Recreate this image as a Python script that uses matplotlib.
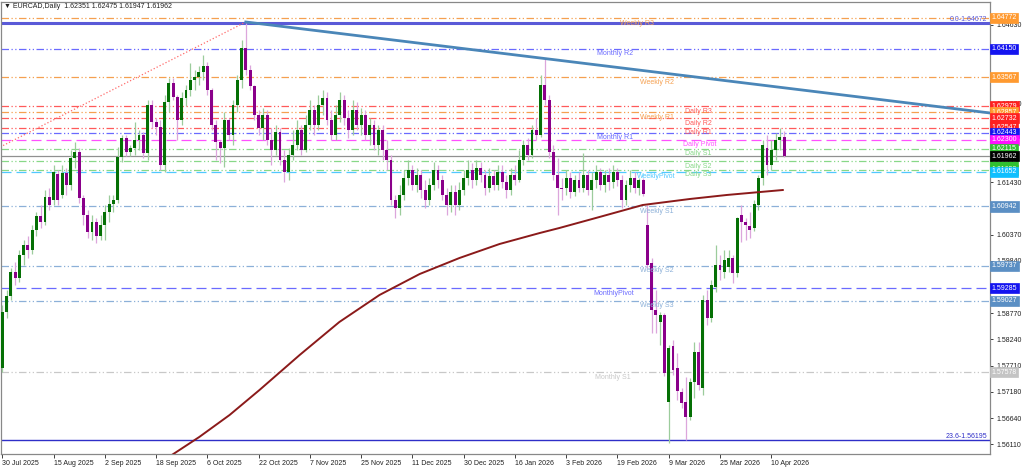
import numpy as np
import matplotlib
matplotlib.use("Agg")
import matplotlib.pyplot as plt
from matplotlib.transforms import blended_transform_factory

plt.rcParams['font.family'] = ['Liberation Sans', 'DejaVu Sans']

# --- data ---------------------------------------------------------------
date_labels = ["30 Jul 2025", "15 Aug 2025", "2 Sep 2025", "18 Sep 2025", "6 Oct 2025",
               "22 Oct 2025", "7 Nov 2025", "25 Nov 2025", "11 Dec 2025", "30 Dec 2025",
               "16 Jan 2026", "3 Feb 2026", "19 Feb 2026", "9 Mar 2026", "25 Mar 2026",
               "10 Apr 2026"]
date_label_bars = [0, 12, 24, 36, 48, 60, 72, 84, 96, 108, 120, 132, 144, 156, 168, 180]

# daily OHLC, one row per 12 bars
opens = [1.5766, 1.5880, 1.5912, 1.5961, 1.5949, 1.5996, 1.6016, 1.6006, 1.6047, 1.6075, 1.6063, 1.6113,
         1.6107, 1.6160, 1.6117, 1.6162, 1.6138, 1.6193, 1.6205, 1.6112, 1.6077, 1.6042, 1.6063, 1.6034,
         1.6057, 1.6083, 1.6099, 1.6107, 1.6195, 1.6233, 1.6205, 1.6213, 1.6229, 1.6240, 1.6203, 1.6300,
         1.6266, 1.6256, 1.6179, 1.6307, 1.6345, 1.6317, 1.6270, 1.6315, 1.6331, 1.6351, 1.6357, 1.6368,
         1.6380, 1.6331, 1.6260, 1.6225, 1.6213, 1.6270, 1.6240, 1.6300, 1.6351, 1.6416, 1.6372, 1.6339,
         1.6280, 1.6254, 1.6280, 1.6229, 1.6209, 1.6246, 1.6189, 1.6164, 1.6199, 1.6219, 1.6250, 1.6209,
         1.6260, 1.6290, 1.6260, 1.6300, 1.6315, 1.6270, 1.6240, 1.6280, 1.6311, 1.6274, 1.6250, 1.6290,
         1.6260, 1.6280, 1.6240, 1.6260, 1.6219, 1.6250, 1.6209, 1.6189, 1.6107, 1.6091, 1.6117, 1.6152,
         1.6168, 1.6138, 1.6158, 1.6128, 1.6107, 1.6138, 1.6168, 1.6148, 1.6117, 1.6097, 1.6124, 1.6097,
         1.6128, 1.6152, 1.6168, 1.6148, 1.6172, 1.6158, 1.6132, 1.6156, 1.6138, 1.6164, 1.6144, 1.6128,
         1.6158, 1.6148, 1.6189, 1.6219, 1.6199, 1.6250, 1.6240, 1.6341, 1.6311, 1.6205, 1.6158, 1.6132,
         1.6132, 1.6152, 1.6124, 1.6148, 1.6132, 1.6158, 1.6128, 1.6148, 1.6164, 1.6138, 1.6158, 1.6144,
         1.6164, 1.6148, 1.6107, 1.6138, 1.6152, 1.6132, 1.6148, 1.6057, 1.5979, 1.5884, 1.5860, 1.5874,
         1.5697, 1.5811, 1.5767, 1.5717, 1.5697, 1.5667, 1.5738, 1.5799, 1.5725, 1.5904, 1.5868, 1.5931,
         1.5975, 1.5961, 1.5971, 1.5990, 1.5959, 1.6077, 1.6063, 1.6055, 1.6051, 1.6097, 1.6152, 1.6213,
         1.6178, 1.6209, 1.6229, 1.62351]
highs = [1.5894, 1.5925, 1.5969, 1.5981, 1.6006, 1.6026, 1.6034, 1.6057, 1.6083, 1.6097, 1.6128, 1.6132,
         1.6178, 1.6168, 1.6178, 1.6172, 1.6209, 1.6225, 1.6213, 1.6117, 1.6087, 1.6077, 1.6071, 1.6077,
         1.6097, 1.6117, 1.6117, 1.6215, 1.6240, 1.6240, 1.6219, 1.6266, 1.6250, 1.6246, 1.6311, 1.6311,
         1.6274, 1.6270, 1.6321, 1.6355, 1.6355, 1.6321, 1.6327, 1.6341, 1.6386, 1.6372, 1.6380, 1.6402,
         1.6388, 1.6335, 1.6270, 1.6229, 1.6286, 1.6274, 1.6311, 1.6361, 1.6433, 1.6467, 1.6382, 1.6341,
         1.6290, 1.6294, 1.6290, 1.6254, 1.6260, 1.6254, 1.6209, 1.6213, 1.6250, 1.6270, 1.6260, 1.6280,
         1.6311, 1.6300, 1.6321, 1.6331, 1.6327, 1.6290, 1.6300, 1.6327, 1.6321, 1.6290, 1.6311, 1.6307,
         1.6294, 1.6290, 1.6274, 1.6270, 1.6260, 1.6260, 1.6229, 1.6199, 1.6117, 1.6138, 1.6168, 1.6189,
         1.6178, 1.6172, 1.6168, 1.6148, 1.6152, 1.6185, 1.6178, 1.6158, 1.6132, 1.6138, 1.6138, 1.6144,
         1.6168, 1.6189, 1.6183, 1.6189, 1.6185, 1.6168, 1.6172, 1.6168, 1.6178, 1.6178, 1.6158, 1.6172,
         1.6178, 1.6209, 1.6229, 1.6233, 1.6260, 1.6274, 1.6361, 1.6396, 1.6321, 1.6219, 1.6193, 1.6152,
         1.6168, 1.6164, 1.6158, 1.6164, 1.6203, 1.6168, 1.6164, 1.6178, 1.6172, 1.6168, 1.6172, 1.6178,
         1.6172, 1.6158, 1.6148, 1.6168, 1.6164, 1.6152, 1.6152, 1.6097, 1.5990, 1.5925, 1.5880, 1.5878,
         1.5813, 1.5823, 1.5797, 1.5725, 1.5748, 1.5746, 1.5819, 1.5819, 1.5914, 1.5925, 1.5945, 1.6016,
         1.5996, 1.6006, 1.6006, 1.5996, 1.6073, 1.6097, 1.6071, 1.6083, 1.6107, 1.6158, 1.6229, 1.6240,
         1.6229, 1.6244, 1.6254, 1.62475]
lows = [1.5758, 1.5868, 1.5904, 1.5935, 1.5941, 1.5975, 1.5990, 1.5998, 1.6034, 1.6051, 1.6057, 1.6087,
        1.6097, 1.6097, 1.6112, 1.6117, 1.6128, 1.6172, 1.6101, 1.6057, 1.6030, 1.6026, 1.6020, 1.6026,
        1.6026, 1.6063, 1.6083, 1.6101, 1.6185, 1.6197, 1.6197, 1.6199, 1.6209, 1.6193, 1.6189, 1.6254,
        1.6240, 1.6168, 1.6164, 1.6286, 1.6311, 1.6229, 1.6260, 1.6298, 1.6319, 1.6331, 1.6341, 1.6351,
        1.6321, 1.6250, 1.6189, 1.6183, 1.6174, 1.6229, 1.6219, 1.6286, 1.6335, 1.6361, 1.6331, 1.6270,
        1.6240, 1.6229, 1.6219, 1.6179, 1.6199, 1.6179, 1.6144, 1.6148, 1.6189, 1.6209, 1.6199, 1.6205,
        1.6250, 1.6240, 1.6250, 1.6280, 1.6260, 1.6229, 1.6229, 1.6266, 1.6260, 1.6233, 1.6240, 1.6250,
        1.6240, 1.6229, 1.6219, 1.6209, 1.6199, 1.6189, 1.6168, 1.6097, 1.6071, 1.6077, 1.6107, 1.6138,
        1.6128, 1.6124, 1.6112, 1.6091, 1.6097, 1.6128, 1.6132, 1.6107, 1.6077, 1.6083, 1.6077, 1.6087,
        1.6117, 1.6138, 1.6132, 1.6138, 1.6144, 1.6117, 1.6124, 1.6128, 1.6128, 1.6132, 1.6112, 1.6117,
        1.6138, 1.6144, 1.6178, 1.6189, 1.6193, 1.6229, 1.6236, 1.6300, 1.6193, 1.6148, 1.6077, 1.6107,
        1.6117, 1.6112, 1.6116, 1.6124, 1.6124, 1.6117, 1.6087, 1.6132, 1.6128, 1.6124, 1.6128, 1.6132,
        1.6136, 1.6091, 1.6097, 1.6124, 1.6122, 1.6117, 1.6116, 1.5969, 1.5837, 1.5837, 1.5813, 1.5750,
        1.5614, 1.5752, 1.5701, 1.5685, 1.5620, 1.5660, 1.5705, 1.5721, 1.5711, 1.5853, 1.5860, 1.5921,
        1.5945, 1.5949, 1.5961, 1.5939, 1.5951, 1.6022, 1.6026, 1.6030, 1.6044, 1.6087, 1.6138, 1.6158,
        1.6168, 1.6189, 1.6209, 1.61947]
closes = [1.5880, 1.5912, 1.5961, 1.5949, 1.5996, 1.6016, 1.6006, 1.6047, 1.6075, 1.6063, 1.6113, 1.6097,
          1.6164, 1.6107, 1.6162, 1.6138, 1.6193, 1.6205, 1.6112, 1.6077, 1.6042, 1.6063, 1.6034, 1.6057,
          1.6083, 1.6099, 1.6107, 1.6195, 1.6233, 1.6205, 1.6213, 1.6229, 1.6240, 1.6203, 1.6300, 1.6266,
          1.6256, 1.6179, 1.6307, 1.6345, 1.6317, 1.6270, 1.6315, 1.6331, 1.6351, 1.6357, 1.6368, 1.6380,
          1.6331, 1.6260, 1.6225, 1.6213, 1.6270, 1.6240, 1.6300, 1.6351, 1.6416, 1.6372, 1.6339, 1.6280,
          1.6254, 1.6280, 1.6229, 1.6209, 1.6246, 1.6189, 1.6164, 1.6199, 1.6219, 1.6250, 1.6209, 1.6260,
          1.6290, 1.6260, 1.6300, 1.6315, 1.6270, 1.6240, 1.6280, 1.6311, 1.6274, 1.6250, 1.6290, 1.6260,
          1.6280, 1.6240, 1.6260, 1.6219, 1.6250, 1.6209, 1.6189, 1.6107, 1.6091, 1.6117, 1.6152, 1.6168,
          1.6138, 1.6158, 1.6128, 1.6107, 1.6138, 1.6168, 1.6148, 1.6117, 1.6097, 1.6124, 1.6097, 1.6128,
          1.6152, 1.6168, 1.6148, 1.6172, 1.6158, 1.6132, 1.6156, 1.6138, 1.6164, 1.6144, 1.6128, 1.6158,
          1.6148, 1.6189, 1.6219, 1.6199, 1.6250, 1.6240, 1.6341, 1.6311, 1.6205, 1.6158, 1.6132, 1.6130,
          1.6152, 1.6124, 1.6148, 1.6132, 1.6158, 1.6128, 1.6148, 1.6164, 1.6138, 1.6158, 1.6144, 1.6164,
          1.6148, 1.6107, 1.6138, 1.6152, 1.6132, 1.6148, 1.6120, 1.5975, 1.5884, 1.5874, 1.5874, 1.5756,
          1.5807, 1.5762, 1.5719, 1.5695, 1.5667, 1.5738, 1.5799, 1.5731, 1.5904, 1.5868, 1.5935, 1.5975,
          1.5965, 1.5986, 1.5990, 1.5959, 1.6071, 1.6063, 1.6057, 1.6047, 1.6099, 1.6152, 1.6219, 1.6178,
          1.6209, 1.6229, 1.6235, 1.61962]

# 200-day moving average
ma_bars = [37.9, 46.1, 53.2, 60.2, 69.6, 78.9, 88.3, 97.7, 107.0, 116.4, 125.8, 130.4, 139.8, 149.9, 160.9, 169.6, 182.7]
ma_vals = [1.55791, 1.56258, 1.56705, 1.57213, 1.57924, 1.58595, 1.59144, 1.59570, 1.59895, 1.60180,
           1.60403, 1.60505, 1.60729, 1.60972, 1.61094, 1.61176, 1.61277]

# pivot levels
level_prices = [1.64772, 1.64150, 1.63567, 1.62979, 1.62857, 1.62732, 1.62547, 1.62443, 1.62300,
                1.62115, 1.61868, 1.61690, 1.61652, 1.60942, 1.59737, 1.59285, 1.59027, 1.57578]
level_names = ["Weekly R3", "Monthly R2", "Weekly R2", "Daily R3", "Weekly R1", "Daily R2", "Daily R1",
               "Monthly R1", "Daily Pivot", "Daily S1", "Daily S2", "Daily S3", "WeeklyPivot",
               "Weekly S1", "Weekly S2", "MonthlyPivot", "Weekly S3", "Monthly S1"]
level_kinds = ["wr", "mr", "wr", "dr", "wr", "dr", "dr", "mr", "dp", "ds", "ds", "ds", "wp",
               "ws", "ws", "mp", "ws", "ms"]
level_label_bars = [144.5, 139.3, 149.3, 159.8, 149.3, 159.8, 159.8, 139.3, 159.4, 159.8, 159.8, 159.8,
                    148.6, 149.3, 149.3, 138.3, 149.3, 138.8]

last_price = 1.61962
fib_top, fib_bottom = 1.64672, 1.56195
trend_bars = [57, 231.2]
trend_vals = [1.64691, 1.62842]
fib_line_bars = [-0.5, 57]
fib_line_vals = [1.62150, 1.64691]

price_ticks = [1.56110, 1.56640, 1.57180, 1.57710, 1.58240, 1.58770, 1.59840, 1.60370,
               1.61430, 1.63030, 1.64630]

# --- styles --------------------------------------------------------------
line_col = {"wr": "#f5a050", "mr": "#6a6aff", "dr": "#ff5a5a", "dp": "#ff50ff", "ds": "#88d888",
            "wp": "#50c8ff", "ws": "#8cb0d8", "mp": "#6a6aff", "ms": "#c8c8c8"}
box_col = {"wr": "#ff9a30", "mr": "#1414f0", "dr": "#ff2020", "dp": "#ff10ff", "ds": "#30c030",
           "wp": "#10bfff", "ws": "#5b8fc4", "mp": "#1414f0", "ms": "#c4c4c4"}
dashdotdot = (0, (6, 2, 1, 2, 1, 2))
longdash = (0, (8, 4))

fig = plt.figure(figsize=(10.24, 4.67), dpi=100)
ax = fig.add_axes([1 / 1024, 13 / 467, 989 / 1024, 452 / 467])
ax.set_xlim(-0.3, 231.2)
ax.set_ylim(1.55913, 1.65097)

o = np.array(opens)
h = np.array(highs)
l = np.array(lows)
c = np.array(closes)
x = np.arange(len(c))

bull = c >= o
wick_col = np.where(bull, "#9ccc9c", "#dca6dc")
ax.vlines(x, l, h, colors=wick_col, linewidth=0.9, zorder=3)
body_col = np.where(bull, "#057005", "#8a008a")
ax.bar(x, np.maximum(np.abs(c - o), 0.00012), bottom=np.minimum(o, c), width=0.68,
       color=body_col, linewidth=0, zorder=4)

# levels
trans = blended_transform_factory(ax.transAxes, ax.transData)
for p, name, kind, lb in zip(level_prices, level_names, level_kinds, level_label_bars):
    ls = longdash if kind in ("dp", "wp", "mp") else dashdotdot
    ax.axhline(p, color=line_col[kind], linestyle=ls, linewidth=0.9, zorder=2)
    ax.annotate(name, xy=(lb, p), xytext=(0, -1.2), textcoords="offset points", va="top", ha="left",
                fontsize=5, color=line_col[kind], zorder=5)
    ax.text(1.0 + 1.5 / 989, p, f"{p:.5f}", transform=trans, ha="left", va="center", fontsize=5,
            color="white", clip_on=False, zorder=10,
            bbox=dict(boxstyle="square,pad=0.22", fc=box_col[kind], ec=box_col[kind], lw=0.5))

# bid line and price box
ax.axhline(last_price, color="#909090", linewidth=0.9, zorder=2)
ax.text(1.0 + 1.5 / 989, last_price, f"{last_price:.5f}", transform=trans, ha="left", va="center",
        fontsize=5, color="white", clip_on=False, zorder=11,
        bbox=dict(boxstyle="square,pad=0.22", fc="black", ec="black", lw=0.5))

# fibonacci levels
ax.axhline(fib_top, color="#5a5ad8", linewidth=2.2, zorder=2)
ax.axhline(fib_bottom, color="#2e2ec8", linewidth=1.0, zorder=2)
ax.text(1.0 - 3 / 989, fib_top, f"0.0-{fib_top:.5f}", transform=trans, ha="right", va="bottom",
        fontsize=5, color="#5a5ad8")
ax.text(1.0 - 3 / 989, fib_bottom, f"23.6-{fib_bottom:.5f}", transform=trans, ha="right", va="bottom",
        fontsize=5, color="#2e2ec8")
ax.plot(fib_line_bars, fib_line_vals, color="#ff6a6a", linestyle=":", linewidth=0.9, zorder=2)

# trend line and moving average
ax.plot(trend_bars, trend_vals, color="#4a86b8", linewidth=2.0, zorder=6)
ax.plot(ma_bars, ma_vals, color="#8b1a1a", linewidth=1.4, zorder=6)

# axes
ax.yaxis.tick_right()
ax.set_yticks(price_ticks)
ax.set_yticklabels([f"{t:.5f}" for t in price_ticks])
ax.tick_params(axis="y", length=2.5, width=0.6, pad=2, labelsize=5, colors="#202020")
ax.set_xticks(date_label_bars)
ax.set_xticklabels(date_labels)
ax.tick_params(axis="x", length=3, width=0.6, pad=1.5, labelsize=5, colors="#202020")
for t in ax.get_xticklabels():
    t.set_horizontalalignment("left")
for s in ax.spines.values():
    s.set_color("#888888")
    s.set_linewidth(0.9)

fig.text(4 / 1024, 1 - 7 / 467, "\u25bc EURCAD,Daily  1.62351 1.62475 1.61947 1.61962", fontsize=5,
         va="center", ha="left", color="#202020")

fig.savefig("out.png", dpi=100)
